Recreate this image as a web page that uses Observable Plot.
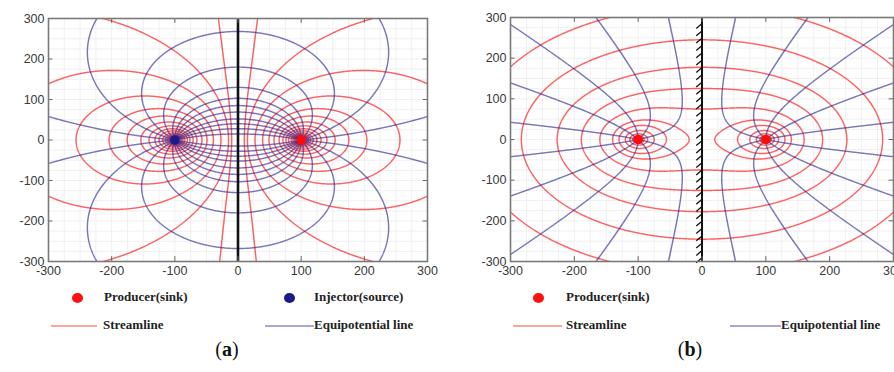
<!DOCTYPE html>
<html>
<head>
<meta charset="utf-8">
<script src="https://cdn.jsdelivr.net/npm/d3@7"></script>
<script src="https://cdn.jsdelivr.net/npm/@observablehq/plot@0.6"></script>
<style>
  html, body { margin: 0; padding: 0; background: #fff; }
  #wrap { position: relative; width: 894px; height: 372px; overflow: hidden; }
  .panel { position: absolute; top: 0; }
  .leg { position: absolute; font-family: "Liberation Serif", "Times New Roman", serif; font-weight: bold; font-size: 13px; color: #222; line-height: 14px; white-space: nowrap; }
  .dot { position: absolute; width: 11px; height: 10px; border-radius: 50%; }
  .lline { position: absolute; height: 2px; }
  .cap { position: absolute; font-family: "Liberation Serif", "Times New Roman", serif; font-size: 20px; color: #111; transform: translateX(-50%); }
</style>
</head>
<body>
<div id="wrap"></div>
<script>
// ---------------- data ----------------
const axisTicks = [-300, -200, -100, 0, 100, 200, 300];
const wellX = [-100, 100];                 // well positions on the x axis
// (a) source–sink pair
const streamlineInnerInterceptsA = [15, 27, 39, 49, 57, 65, 71, 76, 80, 84, 87, 89.5, 91.5]; // x where red loops cross y=0 between wells
const equipotentialCrossingsA = [1447, 455, 268, 180, 130, 103, 85, 69, 52, 40, 28, 15];   // y where blue circles cross x=0
const nearAxisY = [300, 143, 0, -143, -300];  // red lines hugging the centre line
const nearAxisX = [31, 18, 10, 18, 29];
// (b) sink next to a no-flow boundary (image well)
const streamlineOuterInterceptsB = [357, 283, 227, 189, 160, 140, 130, 120, 113, 108.5, 105.5]; // outer x-intercepts of red loops
const equipotentialAnglesB = [18, 54, 90, 126, 162]; // asymptotic angle levels of blue lines (deg)
const hatchY = d3.range(285, -300, -18);

// ---------------- derived contour levels ----------------
const a = wellX[1];
const redLevelsA = streamlineInnerInterceptsA.map(X => Math.log((a + X) / (a - X)));
const blueLevelsA = equipotentialCrossingsA.map(h => 2 * Math.atan(a / h) * 180 / Math.PI);
const redLevelsB = streamlineOuterInterceptsB.map(X => Math.log(X * X - a * a));
const blueLevelsB = equipotentialAnglesB;

const phiA = (x, y) => {
  const r1 = Math.hypot(x + a, y) + 1e-9, r2 = Math.hypot(x - a, y) + 1e-9;
  return Math.min(12, Math.abs(Math.log(r1 / r2)));
};
const psiA = (x, y) => Math.abs(Math.atan2(2 * a * y, x * x + y * y - a * a)) * 180 / Math.PI;
const phiB = (x, y) => Math.max(-5, Math.log(Math.hypot(x + a, y) * Math.hypot(x - a, y) + 1e-6));
const psiB = (x, y) => Math.abs(Math.atan2(2 * x * y, x * x - y * y - a * a)) * 180 / Math.PI;

const RED = "#ff2020", BLUE = "#1e1e8e";
const gridTicks = d3.range(-300, 301, 25);
const ext = {x1: -340, x2: 340, y1: -340, y2: 340};

function innerTicks() {
  const t = axisTicks.slice(1, -1);
  return [
    Plot.ruleX(t, {x: d => d, y1: -300, y2: -288, stroke: "#666", strokeWidth: 1}),
    Plot.ruleX(t, {x: d => d, y1: 300, y2: 288, stroke: "#666", strokeWidth: 1}),
    Plot.ruleY(t, {y: d => d, x1: -300, x2: -293, stroke: "#666", strokeWidth: 1}),
    Plot.ruleY(t, {y: d => d, x1: 300, x2: 293, stroke: "#666", strokeWidth: 1})
  ];
}

function base(opts, marks) {
  return Plot.plot({
    ...opts,
    height: 285,
    x: {domain: [-300, 300], nice: false, label: null},
    y: {domain: [-300, 300], nice: false, label: null},
    style: {fontFamily: "'Liberation Sans', Arial, sans-serif", fontSize: "12.5px", color: "#3a3a3a", background: "transparent", overflow: "visible"},
    marks: [
      Plot.gridX(gridTicks, {stroke: "#f0f0f0", strokeOpacity: 1}),
      Plot.gridY(gridTicks, {stroke: "#f0f0f0", strokeOpacity: 1}),
      ...marks,
      ...innerTicks(),
      Plot.frame({stroke: "#7a7a7a", strokeWidth: 1.6}),
      Plot.axisX(axisTicks, {tickSize: 0, tickPadding: 5, tickFormat: d => String(d), label: null}),
      Plot.axisY(axisTicks, {tickSize: 0, tickPadding: 4, tickFormat: d => String(d), label: null})
    ]
  });
}

const cStyle = {pixelSize: 0.5, fill: "none", strokeWidth: 1.45, clip: true};

// ---------------- panel (a) ----------------
const nearAxis = nearAxisY.flatMap((y, i) => [
  {x: -nearAxisX[i], y, side: "L"},
  {x: nearAxisX[i], y, side: "R"}
]);
const wellsA = [
  {x: wellX[0], y: 0, c: "#1a1a8a"},
  {x: wellX[1], y: 0, c: "#ff0a0a"}
];
const plotA = base({width: 440, marginLeft: 48, marginRight: 13, marginTop: 18, marginBottom: 24}, [
  Plot.contour({...ext, ...cStyle, value: phiA, thresholds: redLevelsA, stroke: RED, strokeOpacity: 0.7}),
  Plot.line(nearAxis, {x: "x", y: "y", z: "side", curve: "natural", stroke: RED, strokeOpacity: 0.7, strokeWidth: 1.45}),
  Plot.contour({...ext, ...cStyle, value: psiA, thresholds: blueLevelsA, stroke: BLUE, strokeOpacity: 0.6}),
  Plot.ruleX([0], {stroke: "#111", strokeWidth: 2.6}),
  Plot.dot(wellsA, {x: "x", y: "y", r: 4.8, fill: "c", stroke: "none"})
]);

// ---------------- panel (b) ----------------
const wellsB = wellX.map(x => ({x, y: 0}));
const plotB = base({width: 432, marginLeft: 48, marginRight: 1, marginTop: 17, marginBottom: 24}, [
  Plot.contour({...ext, ...cStyle, value: phiB, thresholds: redLevelsB, stroke: RED, strokeOpacity: 0.7}),
  Plot.contour({...ext, ...cStyle, value: psiB, thresholds: blueLevelsB, stroke: BLUE, strokeOpacity: 0.6}),
  Plot.link(hatchY, {x1: 0, y1: d => d, x2: -9, y2: d => d - 12, stroke: "#111", strokeWidth: 1.3}),
  Plot.ruleX([0], {stroke: "#111", strokeWidth: 2}),
  Plot.dot(wellsB, {x: "x", y: "y", r: 4.8, fill: "#ff0a0a", stroke: "none"})
]);

const wrap = document.getElementById("wrap");
function place(node, left) {
  const d = document.createElement("div");
  d.className = "panel";
  d.style.left = left + "px";
  d.appendChild(node);
  wrap.appendChild(d);
}
place(plotA, 0);
place(plotB, 462);

// ---------------- legends ----------------
function add(html) { wrap.insertAdjacentHTML("beforeend", html); }
const legendA = [
  {type: "dot", color: "#ff1010", x: 72, text: "Producer(sink)", tx: 104, row: 0},
  {type: "dot", color: "#1a1a8a", x: 284, text: "Injector(source)", tx: 314, row: 0},
  {type: "line", color: "#f7a79f", x: 51, w: 46, text: "Streamline", tx: 103, row: 1},
  {type: "line", color: "#a7a7d8", x: 265, w: 49, text: "Equipotential line", tx: 314, row: 1}
];
const legendB = [
  {type: "dot", color: "#ff1010", x: 533, text: "Producer(sink)", tx: 566, row: 0},
  {type: "line", color: "#f7a79f", x: 513, w: 49, text: "Streamline", tx: 566, row: 1},
  {type: "line", color: "#a7a7d8", x: 730, w: 51, text: "Equipotential line", tx: 781, row: 1}
];
const rowY = [298, 326];
for (const e of [...legendA, ...legendB]) {
  const cy = rowY[e.row];
  if (e.type === "dot") add(`<div class="dot" style="left:${e.x}px;top:${cy - 5}px;background:${e.color}"></div>`);
  else add(`<div class="lline" style="left:${e.x}px;top:${cy - 1}px;width:${e.w}px;background:${e.color}"></div>`);
  add(`<div class="leg" style="left:${e.tx}px;top:${cy - 8}px">${e.text}</div>`);
}
add(`<div class="cap" style="left:227px;top:338px">(<b>a</b>)</div>`);
add(`<div class="cap" style="left:690px;top:338px">(<b>b</b>)</div>`);
</script>
</body>
</html>
